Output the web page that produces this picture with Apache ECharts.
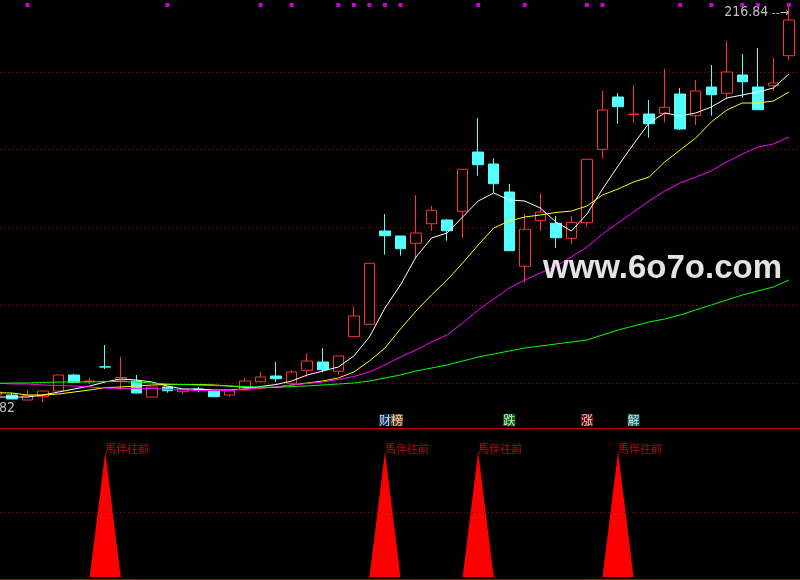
<!DOCTYPE html>
<html><head><meta charset="utf-8">
<script src="https://cdn.jsdelivr.net/npm/echarts@6/dist/echarts.min.js"></script>
<style>html,body{margin:0;padding:0;background:#000;}#c{width:800px;height:580px;}</style>
</head><body><div id="c"></div>
<script>
// ---------- data ----------
const categories = [0,1,2,3,4,5,6,7,8,9,10,11,12,13,14,15,16,17,18,19,20,21,22,23,24,25,26,27,28,29,30,31,32,33,34,35,36,37,38,39,40,41,42,43,44,45,46,47,48,49,50,51];
const opens  = [46.0,46.0,43.8,45.25,47.76,54.8,51.94,58.4,52.6,52.16,45.12,49.52,47.45,48.64,47.76,46.0,48.2,51.85,54.36,51.15,56.87,60.52,56.43,71.65,77.11,118.16,115.96,112.75,121.37,123.0,126.83,152.92,147.64,135.32,102.63,122.69,121.55,114.95,121.81,154.11,177.12,169.42,169.64,169.95,178.44,168.89,181.52,178.75,186.8,181.52,182.09,195.29];
const closes = [47.32,44.24,45.69,47.76,54.8,51.59,52.16,58.3,53.7,46.88,49.52,47.89,48.51,48.2,45.25,47.76,52.16,53.92,53.17,56.12,60.96,57.13,63.16,80.76,103.95,116.09,110.37,117.28,127.27,118.29,145.31,147.33,138.97,109.49,118.91,126.52,115.21,121.99,149.71,171.4,172.85,169.64,165.37,172.59,163.04,179.76,178.13,188.12,183.85,171.53,183.28,211.0];
const lows   = [46.0,44.24,43.8,42.82,47.76,51.59,50.84,57.44,48.2,46.66,45.12,47.01,46.31,47.19,45.25,45.25,48.2,51.85,51.72,51.15,54.05,55.99,54.93,71.65,77.11,107.73,107.29,106.15,118.29,113.89,114.95,142.49,135.01,109.49,95.41,118.29,110.81,112.44,120.05,149.97,165.37,165.81,159.21,165.81,162.6,164.8,168.89,176.11,176.81,171.53,179.89,193.4];
const highs  = [47.32,46.88,48.2,47.76,54.8,55.37,53.48,68.0,62.72,54.8,49.52,49.52,48.51,49.65,47.76,47.76,53.61,56.12,60.52,57.0,64.48,66.55,63.16,84.85,103.95,125.64,115.96,134.0,129.16,123.44,145.31,167.88,150.15,138.84,125.95,134.75,124.76,124.76,149.71,179.89,178.88,182.4,175.8,189.44,181.08,184.6,191.2,201.76,196.04,198.68,194.28,216.84];
const ma5  = [45.12,45.12,45.12,46.0,47.32,48.64,49.96,51.72,53.04,52.6,51.72,49.96,48.64,48.64,48.2,48.2,48.64,49.74,50.62,52.16,54.8,56.56,58.32,63.16,71.52,84.28,94.4,106.72,115.08,117.28,124.32,131.36,134.88,131.8,131.36,128.28,122.12,118.16,125.64,136.64,146.76,156.44,165.68,170.08,168.76,170.08,172.72,176.68,178.0,179.32,181.08,187.24];
const ma10 = [47.0,46.88,46.0,46.0,46.44,47.32,48.2,49.3,49.52,49.96,50.4,50.62,50.62,50.62,50.4,49.96,49.3,49.08,49.52,50.4,51.28,52.16,53.48,56.12,60.96,66.68,75.04,82.96,90.0,96.6,104.08,112.0,119.48,122.56,124.32,125.2,126.3,126.96,129.16,134.0,136.64,139.72,141.92,148.52,153.8,159.08,166.12,171.4,174.48,174.48,175.36,179.32];
const ma20 = [51.28,50.84,50.84,50.4,50.18,49.96,49.52,49.08,48.86,48.95,48.86,48.51,48.2,47.98,47.89,47.98,48.64,49.08,49.52,50.4,51.06,51.72,52.82,54.14,56.12,59.2,62.72,65.8,69.32,72.4,77.68,83.4,88.24,93.08,96.6,99.68,102.76,106.72,111.12,116.84,121.68,126.52,131.36,135.76,139.28,141.92,144.56,148.52,152.04,155.12,156.44,159.52];
const ma60 = [51.06,51.28,51.28,51.5,51.72,51.72,51.72,51.94,51.94,51.72,51.28,50.84,50.62,50.4,50.18,49.96,49.74,49.52,49.3,49.74,49.96,50.4,50.84,51.28,52.16,53.48,54.8,56.56,57.88,59.2,60.96,62.72,64.04,65.36,66.68,67.56,68.44,69.32,70.2,72.4,74.6,76.36,78.12,79.44,81.2,83.4,85.6,87.8,90.0,91.76,93.52,96.6];
const priceLevels = [188.12,154.02,119.92,85.6,51.28];
const signals = [0,0,0,0,0,0,0,1,0,0,0,0,0,0,0,0,0,0,0,0,0,0,0,0,0,1,0,0,0,0,0,1,0,0,0,0,0,0,0,0,1,0,0,0,0,0,0,0,0,0,0,0];
const signalText = '馬伴往前';
const signalLevels = [0.52];
const eventIdx  = [25,33,38,41];
const eventText = ['财榜','跌','涨','解'];
const dotIdx = [2,11,17,19,22,23,24,25,26,31,34,38,39,44,46,48,49,51];
const watermark = 'www.6o7o.com';

// ---------- chart ----------
const chart = echarts.init(document.getElementById('c'), null, {renderer:'canvas'});
const XMIN = 0.2278, XMAX = 51.71;
const charKey = {'财':'cai','榜':'bang','跌':'die','涨':'zhang','解':'jie'};
const boxBase = {color:'#ffffff', fontSize:12, lineHeight:13, padding:[0,0,0,0], fontFamily:'"Noto Sans CJK SC"'};
const rich = {
  cai:  Object.assign({backgroundColor:'#0c3c70'}, boxBase),
  bang: Object.assign({backgroundColor:'#8c4a10'}, boxBase),
  die:  Object.assign({backgroundColor:'#108a10'}, boxBase),
  zhang:Object.assign({backgroundColor:'#8a0c0c'}, boxBase),
  jie:  Object.assign({backgroundColor:'#0c7e7e'}, boxBase)
};
const axisX = (g, showLine) => ({type:'value', gridIndex:g, min:XMIN, max:XMAX,
  axisLine:{show:showLine, onZero:false, lineStyle:{color:'#c00000', width:1}},
  axisTick:{show:false}, axisLabel:{show:false}, splitLine:{show:false}});
const pairs = arr => categories.map((x, i) => [x, arr[i]]);

const option = {
  backgroundColor:'#000000',
  animation:false,
  textStyle:{fontFamily:'"Noto Sans CJK SC", sans-serif'},
  grid:[
    {left:0, right:0, top:0, height:428},
    {left:0, right:0, top:428, height:151},
    {left:0, right:0, top:410, height:20},
    {left:0, right:0, top:0, height:10}
  ],
  xAxis:[axisX(0,true), axisX(1,true), axisX(2,false), axisX(3,false)],
  yAxis:[
    {type:'value', gridIndex:0, min:31.48, max:219.8, show:false},
    {type:'value', gridIndex:1, min:-0.016, max:1.189, show:false},
    {type:'value', gridIndex:2, min:0, max:1, show:false},
    {type:'value', gridIndex:3, min:0, max:1, show:false}
  ],
  graphic:[{type:'text', left:543, top:252, z:100, zlevel:1,
    style:{text:watermark, font:'bold 33px "Liberation Sans", Arial, sans-serif', fill:'#e4e4e4'}}],
  series:[
    {type:'candlestick', xAxisIndex:0, yAxisIndex:0, z:2, barWidth:11,
      dimensions:['idx','open','close','lowest','highest'],
      encode:{x:'idx', y:['open','close','lowest','highest']},
      data:categories.map((x, i) => [x, opens[i], closes[i], lows[i], highs[i]]),
      itemStyle:{color:'#000000', color0:'#54ffff', borderColor:'#ff3232', borderColor0:'#54ffff', borderWidth:1},
      markLine:{silent:true, symbol:'none', label:{show:false}, z:1,
        lineStyle:{color:'#a00000', type:[1,3], width:1},
        data:priceLevels.map(v => ({yAxis:v}))},
      markPoint:{symbol:'circle', symbolSize:0, silent:true,
        data:[
          {type:'max', valueDim:'highest',
            label:{show:true, position:'left', distance:0, offset:[0,6],
              formatter:p => '{t|' + p.value.toFixed(2) + '}{a| --→}',
              rich:{t:{color:'#c0c0c0', fontSize:14, fontFamily:'"Liberation Sans Narrow", "DejaVu Sans Condensed", sans-serif'},
                    a:{color:'#c0c0c0', fontSize:11, fontFamily:'"DejaVu Sans"'}}}},
          {type:'min', valueDim:'lowest',
            label:{show:true, position:'left', distance:28, offset:[0,6],
              formatter:p => p.value.toFixed(2), color:'#c0c0c0', fontSize:14,
              fontFamily:'"Liberation Sans Narrow", "DejaVu Sans Condensed", sans-serif'}}
        ]}},
    {type:'line', name:'MA5', xAxisIndex:0, yAxisIndex:0, z:3, data:pairs(ma5), symbol:'none', lineStyle:{color:'#ffffff', width:1}},
    {type:'line', name:'MA10', xAxisIndex:0, yAxisIndex:0, z:3, data:pairs(ma10), symbol:'none', lineStyle:{color:'#ffff00', width:1}},
    {type:'line', name:'MA20', xAxisIndex:0, yAxisIndex:0, z:3, data:pairs(ma20), symbol:'none', lineStyle:{color:'#ff00ff', width:1}},
    {type:'line', name:'MA60', xAxisIndex:0, yAxisIndex:0, z:3, data:pairs(ma60), symbol:'none', lineStyle:{color:'#00ff00', width:1}},
    {type:'line', xAxisIndex:1, yAxisIndex:1, data:pairs(signals), symbol:'none',
      lineStyle:{opacity:0, width:0}, areaStyle:{color:'#ff0000', opacity:1},
      markLine:{silent:true, symbol:'none', label:{show:false},
        lineStyle:{color:'#a00000', type:[1,3], width:1},
        data:signalLevels.map(v => ({yAxis:v}))}},
    {type:'scatter', xAxisIndex:1, yAxisIndex:1, symbolSize:0, z:5,
      data:pairs(signals).filter(d => d[1] > 0),
      label:{show:true, position:'right', distance:0, offset:[0,-3], formatter:signalText,
        color:'#ff0000', fontSize:11, fontFamily:'"Noto Sans CJK SC"'}},
    {type:'scatter', xAxisIndex:2, yAxisIndex:2, symbolSize:0, z:5,
      data:eventIdx.map((k, j) => ({value:[categories[k], 0.5],
        label:{show:true, position:'inside', offset:[(eventText[j].length - 1) * 6, 0],
          formatter:eventText[j].split('').map(ch => '{' + charKey[ch] + '|' + ch + '}').join(''), rich:rich}}))},
    {type:'scatter', xAxisIndex:3, yAxisIndex:3, symbol:'rect', symbolSize:4, z:5,
      itemStyle:{color:'#ff00ff'}, data:dotIdx.map(k => [categories[k], 0.5])}
  ]
};
chart.setOption(option);
</script></body></html>
